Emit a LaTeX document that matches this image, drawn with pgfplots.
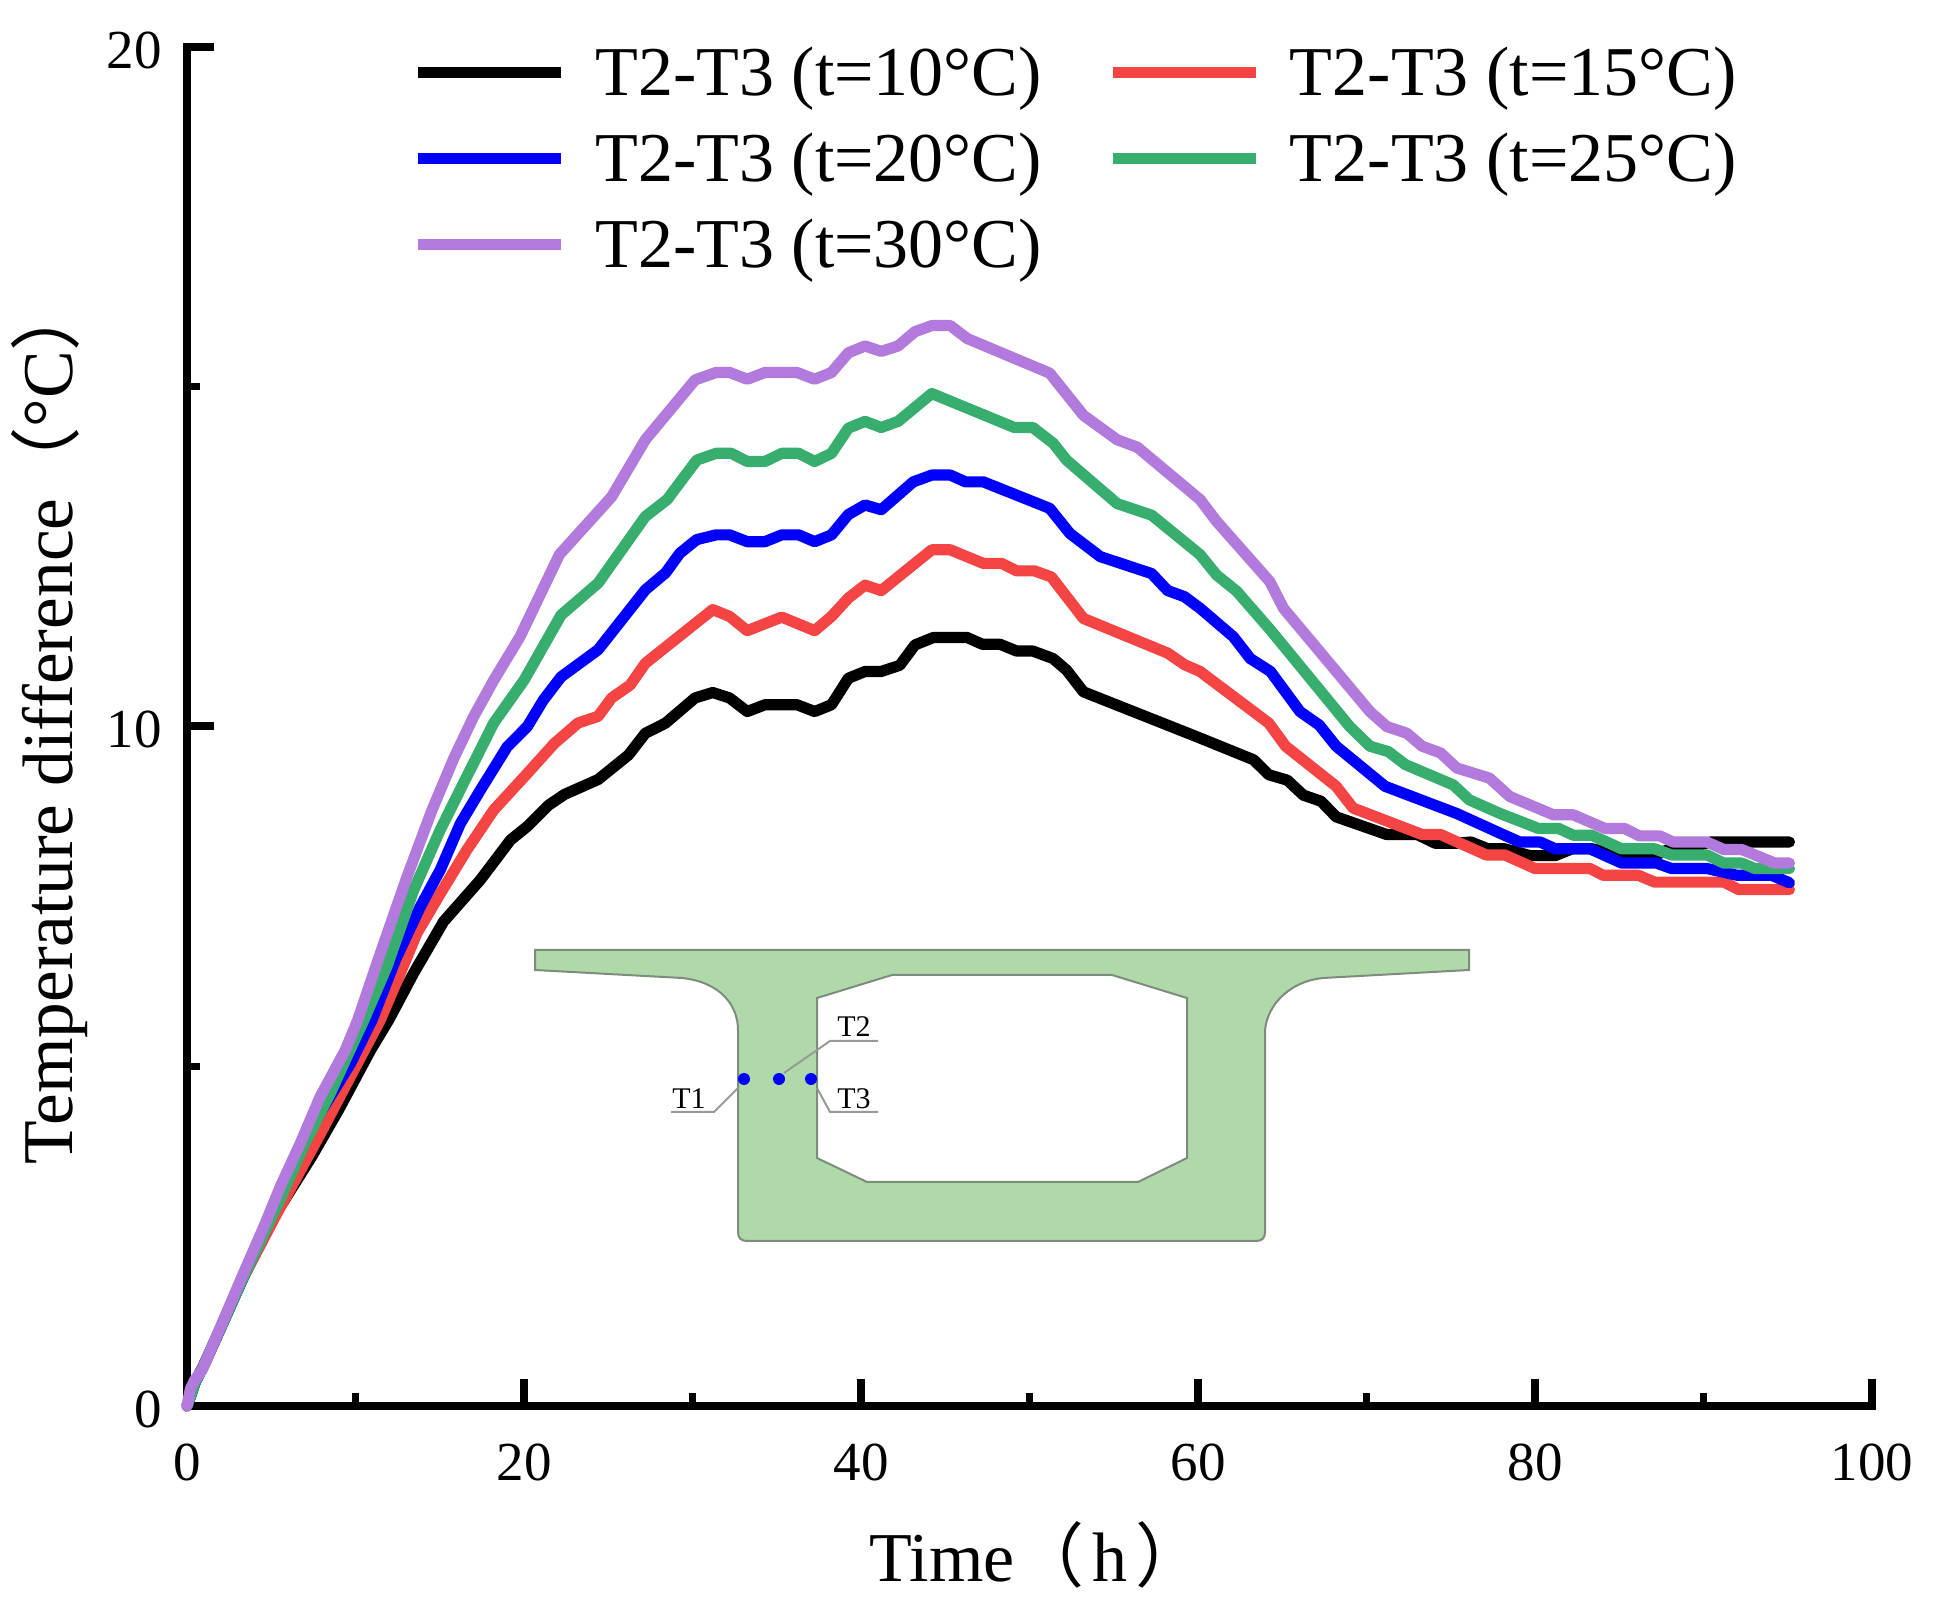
\documentclass[border=0pt]{standalone}
\usepackage{fontspec}
\setmainfont{Liberation Serif}
\newfontfamily\cjk{Noto Sans CJK SC}
\usepackage{pgfplots}
\pgfplotsset{compat=1.18}
\definecolor{cblack}{RGB}{0,0,0}
\definecolor{cred}{RGB}{244,68,68}
\definecolor{cblue}{RGB}{0,0,255}
\definecolor{cgreen}{RGB}{56,174,110}
\definecolor{cpurple}{RGB}{177,122,220}
\definecolor{bridge}{RGB}{176,217,170}
\definecolor{bridgeedge}{RGB}{125,140,125}
\begin{document}
\begin{tikzpicture}
\useasboundingbox (-93.5pt,-97.5pt) rectangle (873pt,703pt);
\begin{axis}[
  scale only axis, width=842.5pt, height=679.5pt,
  xmin=0, xmax=100, ymin=0, ymax=20,
  axis lines=left,
  axis line style={-, line width=4pt, line cap=rect},
  clip=false,
  /pgf/number format/assume math mode=true,
  tick label style={font=\fontsize{27.5}{28}\selectfont},
  xtick={0,20,40,60,80,100}, minor xtick={10,30,50,70,90},
  ytick={0,10,20}, minor ytick={5,15},
  tick align=inside,
  major tick length=13.5pt, minor tick length=6.5pt,
  every tick/.style={black},
  major tick style={line width=4pt},
  minor tick style={line width=3.5pt},
  xticklabel style={yshift=-15.5pt},
  yticklabel style={xshift=-9pt,yshift=-1.5pt},
  xlabel={Time{\cjk（}\hspace{4pt}h\hspace{4pt}{\cjk）}},
  ylabel={Temperature difference{\cjk（}°C{\cjk）}},
  xlabel style={font=\fontsize{35}{36}\selectfont,at={(rel axis cs:0.5047,-0.1295)},anchor=base},
  ylabel style={font=\fontsize{35.7}{36}\selectfont,at={(rel axis cs:-0.0682,0.5033)},anchor=base},
  legend columns=2,
  legend cell align=left,
  legend style={
    at={(axis cs:13.4,20.065)}, anchor=north west,
    draw=none, fill=none, inner sep=0pt, outer sep=0pt,
    font=\fontsize{35}{36}\selectfont,
    row sep=13.3pt,
    /tikz/every even column/.append style={column sep=30.7pt},
    /tikz/every odd column/.append style={column sep=12.3pt},
  },
  legend image code/.code={\draw[#1,line cap=butt,line width=5.5pt] (0pt,0pt) -- (71.5pt,0pt);},
  every axis plot/.append style={line width=5.6pt, line join=round, line cap=round, no marks},
]
\addplot[cblack] coordinates {(0,0)(0.2,0.14)(0.5,0.36)(1,0.6)(2,1.15)(3.3,1.87)(5,2.72)(6.03,3.13)(7.4,3.67)(9,4.36)(10.9,5.24)(11.97,5.68)(13.45,6.37)(15.23,7.13)(17.4,7.74)(19.2,8.33)(20.2,8.53)(21.45,8.84)(22.4,9.0)(24.4,9.22)(26.2,9.58)(27.2,9.9)(28.4,10.05)(30.15,10.42)(31.2,10.5)(32.2,10.42)(33.25,10.22)(34.3,10.32)(36.2,10.32)(37.25,10.22)(38.25,10.32)(39.25,10.71)(40.24,10.81)(41.2,10.81)(42.3,10.9)(43.2,11.2)(44.3,11.31)(46.3,11.31)(47.2,11.21)(48.25,11.21)(49.24,11.11)(50.2,11.11)(51.4,11.0)(52.2,10.83)(53.2,10.51)(58.7,9.97)(60.12,9.83)(63.3,9.51)(64.2,9.29)(65.3,9.21)(66.25,8.99)(67.3,8.9)(68.2,8.67)(71.2,8.41)(73,8.41)(74.1,8.28)(75.2,8.28)(76.2,8.3)(77.2,8.2)(78.2,8.2)(79.7,8.1)(81.2,8.1)(82.2,8.2)(83.4,8.2)(85,8.1)(87.1,8.1)(88,8.2)(89,8.2)(90.4,8.3)(95.1,8.3)};
\addplot[cred] coordinates {(0,0)(0.2,0.14)(0.5,0.36)(1,0.6)(2,1.15)(3.3,1.87)(5.24,2.79)(7.9,4.0)(9.7,4.85)(11.47,5.68)(12.66,6.37)(13.65,6.96)(15.03,7.54)(16.6,8.18)(18.2,8.77)(20.2,9.31)(21.8,9.75)(23.2,10.05)(24.4,10.15)(25.2,10.42)(26.3,10.61)(27.2,10.93)(31.2,11.72)(32.2,11.62)(33.25,11.41)(35.3,11.61)(37.25,11.41)(38.25,11.62)(39.25,11.89)(40.24,12.08)(41.2,12.0)(44.2,12.6)(45.3,12.6)(47.26,12.4)(48.35,12.4)(49.24,12.29)(50.3,12.29)(51.3,12.2)(53.2,11.59)(58.2,11.08)(59.2,10.91)(60.12,10.81)(64.2,10.05)(65.2,9.71)(68.2,9.12)(69.2,8.8)(73.3,8.41)(74.4,8.41)(77.1,8.11)(78.2,8.11)(80,7.91)(83.26,7.91)(84.05,7.81)(86.13,7.81)(87.1,7.71)(91.2,7.71)(92.1,7.6)(95.1,7.6)};
\addplot[cblue] coordinates {(0,0)(0.2,0.14)(0.5,0.36)(1,0.6)(2,1.15)(3.3,1.87)(5.3,2.98)(7.5,4.15)(9.7,5.04)(10.98,5.68)(12.36,6.56)(13.85,7.35)(15.03,7.89)(16.22,8.57)(17.4,9.06)(19,9.7)(20.2,10.0)(21.15,10.39)(22.2,10.73)(24.4,11.13)(27.2,12.01)(28.4,12.26)(29.25,12.55)(30.25,12.75)(31.4,12.82)(32.2,12.82)(33.25,12.72)(34.3,12.72)(35.3,12.82)(36.3,12.82)(37.25,12.72)(38.25,12.82)(39.25,13.12)(40.24,13.26)(41.2,13.19)(43.1,13.6)(44.2,13.7)(45.3,13.7)(46.2,13.6)(47.26,13.6)(51.2,13.21)(52.4,12.84)(54.2,12.5)(57.25,12.25)(58.2,12.0)(59.2,11.91)(60.12,11.74)(62.1,11.32)(63.1,11.0)(64.3,10.81)(66.05,10.22)(67.2,10.02)(68.2,9.71)(71.1,9.12)(75.35,8.72)(77.92,8.43)(79.1,8.3)(80.3,8.3)(81.2,8.2)(83.26,8.2)(85.14,7.99)(87.2,7.99)(88.1,7.91)(90.2,7.91)(92,7.81)(94.04,7.81)(95.1,7.7)};
\addplot[cgreen] coordinates {(0,0)(0.2,0.14)(0.5,0.36)(1,0.6)(2,1.15)(3.3,1.87)(5.5,3.03)(7.0,3.87)(8.5,4.6)(9.6,5.2)(10.5,5.68)(11.87,6.47)(13.45,7.59)(15.03,8.48)(16.6,9.26)(18.2,10.05)(20,10.68)(22.2,11.64)(24.4,12.11)(27.2,13.09)(28.5,13.34)(30.25,13.92)(31.4,14.02)(32.3,14.02)(33.25,13.9)(34.3,13.9)(35.3,14.02)(36.3,14.02)(37.25,13.9)(38.25,14.02)(39.25,14.39)(40.24,14.49)(41.2,14.4)(42.2,14.49)(44.2,14.9)(49.1,14.4)(50.2,14.4)(51.4,14.17)(52.2,13.92)(55.2,13.28)(57.25,13.11)(60.12,12.53)(61.1,12.23)(62.3,11.99)(64.3,11.42)(69,10.0)(70.2,9.71)(71.3,9.63)(72.3,9.44)(75.15,9.14)(76.1,8.92)(77.92,8.72)(80.2,8.5)(81.4,8.5)(82.27,8.4)(83.36,8.4)(85.14,8.2)(87.1,8.2)(88.1,8.11)(90.2,8.11)(91.2,7.99)(92.26,7.99)(93.05,7.91)(95.1,7.91)};
\addplot[cpurple] coordinates {(0,0)(0.2,0.25)(0.45,0.38)(0.9,0.53)(2,1.17)(3.26,1.9)(4.65,2.69)(5.54,3.23)(6.73,3.87)(7.9,4.55)(9.4,5.24)(10.13,5.68)(11.36,6.58)(13.06,7.79)(14.54,8.77)(15.83,9.53)(17,10.14)(18.2,10.68)(19.76,11.32)(22.1,12.53)(25.2,13.38)(27.2,14.22)(30.15,15.1)(31.4,15.21)(32.2,15.21)(33.25,15.11)(34.3,15.21)(36.2,15.21)(37.25,15.11)(38.25,15.21)(39.25,15.5)(40.24,15.6)(41.2,15.52)(42.2,15.6)(43.2,15.81)(44.2,15.9)(45.3,15.9)(46.3,15.71)(51.2,15.2)(53.2,14.58)(55.2,14.22)(56.4,14.11)(60.12,13.34)(61.1,13.02)(64.27,12.13)(65.07,11.74)(70.2,10.22)(71.2,10.0)(72.4,9.9)(73.3,9.71)(74.4,9.61)(75.35,9.39)(77.3,9.24)(78.5,8.97)(81.1,8.7)(82.27,8.7)(84.15,8.5)(85.3,8.5)(86.2,8.39)(87.4,8.39)(88.2,8.3)(90.2,8.3)(91.2,8.19)(92.26,8.19)(94.24,7.99)(95.1,7.99)};
\legend{T2-T3 (t=10°C),T2-T3 (t=15°C),T2-T3 (t=20°C),T2-T3 (t=25°C),T2-T3 (t=30°C)}
\end{axis}
\begin{scope}[shift={(-93.5pt,703pt)},x=0.5pt,y=-0.5pt]
  \fill[bridge,even odd rule,draw=bridgeedge,line width=1pt]
    (535,950) -- (1469,950) -- (1469,970) -- (1323,978)
    .. controls (1285,982) and (1265,1010) .. (1265,1033)
    -- (1265,1232) .. controls (1265,1238) and (1262,1241) .. (1256,1241)
    -- (747,1241) .. controls (741,1241) and (738,1238) .. (738,1232)
    -- (738,1030) .. controls (738,1005) and (720,982) .. (682,978)
    -- (535,970) -- cycle
    (817,998) -- (892,975) -- (1112,975) -- (1187,998) -- (1187,1158) -- (1138,1182) -- (867,1182) -- (817,1158) -- cycle;
  \draw[gray!80,line width=1pt] (671,1112) -- (714,1112) -- (738,1088);
  \draw[gray!80,line width=1pt] (784,1073) -- (830,1041) -- (878,1041);
  \draw[gray!80,line width=1pt] (817,1088) -- (830,1112) -- (878,1112);
  \fill[cblue] (744,1079) circle[radius=6];
  \fill[cblue] (779,1079) circle[radius=6];
  \fill[cblue] (811,1079) circle[radius=6];
  \node[font=\fontsize{15}{15}\selectfont,inner sep=0pt] at (689,1099) {T1};
  \node[font=\fontsize{15}{15}\selectfont,inner sep=0pt] at (854,1027) {T2};
  \node[font=\fontsize{15}{15}\selectfont,inner sep=0pt] at (854,1099) {T3};
\end{scope}
\end{tikzpicture}
\end{document}
